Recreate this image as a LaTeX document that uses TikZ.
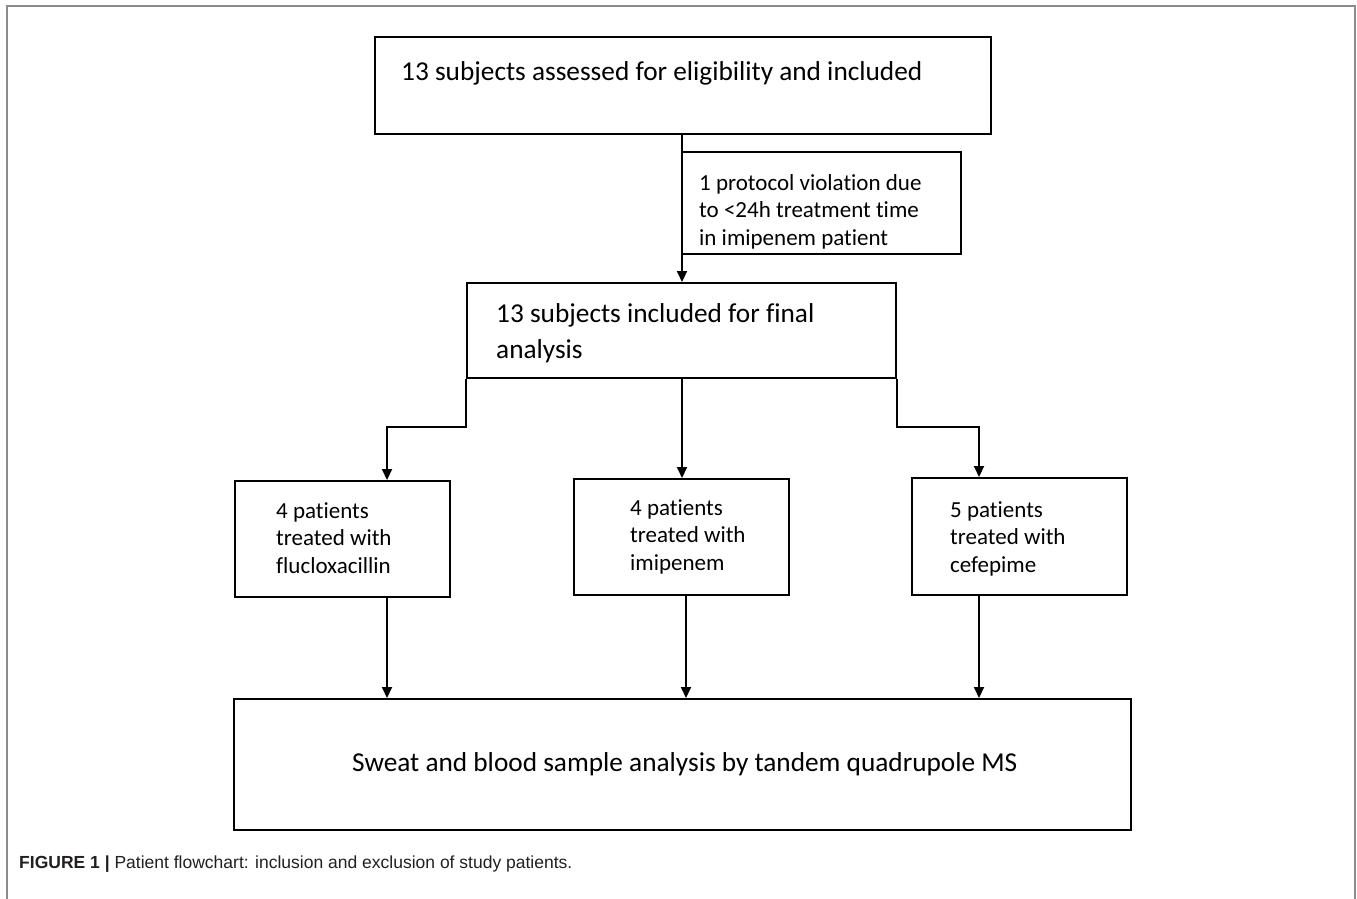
\documentclass[tikz,border=0pt]{standalone}
\usepackage{fontspec}
\setmainfont{Carlito}[Ligatures=NoCommon]
\newfontfamily\capfont{Liberation Sans}
\usetikzlibrary{arrows.meta}
\definecolor{framegray}{RGB}{140,140,140}
\definecolor{captext}{RGB}{35,31,32}
\begin{document}
\begin{tikzpicture}[x=1pt,y=-1pt,
  box/.style={draw=black, line width=2pt, inner sep=0pt, fill=none},
  arr/.style={draw=black, line width=2pt, -{Triangle[width=10pt,length=11pt]}},
  bigtxt/.style={inner sep=0pt, align=left, font=\fontsize{27.3}{36}\selectfont},
  smalltxt/.style={inner sep=0pt, align=left, font=\fontsize{23}{27.5}\selectfont},
  captxt/.style={inner sep=0pt, text=captext, font=\capfont\fontsize{17.5}{20}\selectfont}]
\useasboundingbox (0,0) rectangle (1357,899);
\draw[framegray, line width=1.5pt] (7,899) -- (7,6) -- (1355,6) -- (1355,899);

% boxes
\node[box, minimum width=616pt, minimum height=97pt] (b1) at (683,85.5) {};
\node[box, minimum width=279pt, minimum height=102pt] (s) at (821.5,203) {};
\node[box, minimum width=429pt, minimum height=95pt] (b2) at (681.5,330.5) {};
\node[box, minimum width=215pt, minimum height=116pt] (b3) at (342.5,539) {};
\node[box, minimum width=215pt, minimum height=116pt] (b4) at (681.5,537) {};
\node[box, minimum width=215pt, minimum height=117pt] (b5) at (1019.5,536.5) {};
\node[box, minimum width=897pt, minimum height=131pt] (b6) at (682.5,764.5) {};

% texts (base anchor = baseline of last line)
\node[bigtxt, anchor=base west] (t1) at (401,81) {13 subjects assessed for eligibility and included};
\node[smalltxt, anchor=base west] (ts) at (699,245) {1 protocol violation due\\to <24h treatment time\\in imipenem patient};
\node[bigtxt, anchor=base west] (t2) at (496,358) {13 subjects included for final\\analysis};
\node[smalltxt, anchor=base west] (t3) at (276,573) {4 patients\\treated with\\flucloxacillin};
\node[smalltxt, anchor=base west] (t4) at (630,570) {4 patients\\treated with\\imipenem};
\node[smalltxt, anchor=base west] (t5) at (950,572) {5 patients\\treated with\\cefepime};
\node[bigtxt, anchor=base west] (t6) at (352,771) {Sweat and blood sample analysis by tandem quadrupole MS};
\node[captxt, anchor=base west] (cap) at (19,868) {\textbf{FIGURE 1 |} Patient flowchart: inclusion and exclusion of study patients.};

% junctions
\coordinate (j1) at (682,0);
\coordinate (j3) at (387,427);
\coordinate (j4) at (686,0);
\coordinate (j5) at (979,427);

% connectors
\draw[arr] (j1 |- b1.south) -- (j1 |- b2.north);
\draw[arr] (b2.south west) |- (j3) -- (j3 |- b3.north);
\draw[arr] (j1 |- b2.south) -- (j1 |- b4.north);
\draw[arr] (b2.south east) |- (j5) -- (j5 |- b5.north);
\draw[arr] (j3 |- b3.south) -- (j3 |- b6.north);
\draw[arr] (j4 |- b4.south) -- (j4 |- b6.north);
\draw[arr] (j5 |- b5.south) -- (j5 |- b6.north);
\end{tikzpicture}
\end{document}
